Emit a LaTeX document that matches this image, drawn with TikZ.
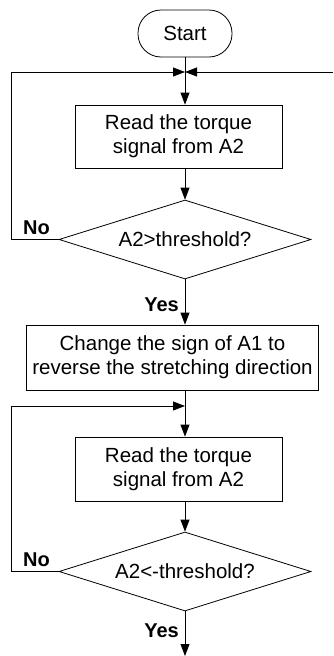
\documentclass[tikz,border=0pt]{standalone}
\usepackage{fontspec}
\setmainfont{Liberation Sans}
\usetikzlibrary{shapes.geometric,arrows.meta}
\begin{document}
\begin{tikzpicture}[x=1pt,y=-1pt,
  every node/.style={font=\fontsize{20.5}{24}\selectfont},
  line/.style={line width=0.8pt},
  arr/.style={line width=0.8pt,-{Triangle[length=12pt,width=9pt]}},
  term/.style={draw,line width=0.8pt,rectangle,rounded corners=23pt,minimum width=94pt,minimum height=47pt,inner sep=0pt},
  proc/.style={draw,line width=0.8pt,rectangle,inner sep=0pt,align=center},
  dec/.style={draw,line width=0.8pt,diamond,shape aspect=3.19,inner sep=0pt,minimum width=252pt,minimum height=79pt},
  lbl/.style={font=\fontsize{20}{24}\selectfont\bfseries,inner sep=0pt}
]
\useasboundingbox (0,0) rectangle (333,656);
\node[term] (start) at (185,33.5) {Start};
\coordinate (j1) at (185,72);
\coordinate (r1) at (333,72);
\node[proc,minimum width=207pt,minimum height=63pt] (b1) at (178.5,136.5) {Read the torque\\signal from A2};
\node[dec] (d1) at (185,239.5) {A2>threshold?};
\node[proc,minimum width=292pt,minimum height=65pt] (b2) at (172.5,357.5) {Change the sign of A1 to\\reverse the stretching direction};
\coordinate (j2) at (185,406);
\node[proc,minimum width=207pt,minimum height=64pt] (b3) at (178.5,469) {Read the torque\\signal from A2};
\node[dec] (d2) at (185,571.5) {A2<-threshold?};
\coordinate (endp) at (185,656);
\coordinate (c1) at (11,239.5);
\coordinate (c2) at (11,72);
\coordinate (c3) at (11,571.5);
\coordinate (c4) at (11,406);

\draw[arr] (start) -- (start |- b1.north);
\draw[arr] (r1) -- (j1);
\draw[arr] (d1.west) -- (c1) -- (c2) -- (j1);
\draw[arr] (d1 |- b1.south) -- (d1.north);
\draw[arr] (d1.south) -- (d1 |- b2.north);
\draw[arr] (d1 |- b2.south) -- (d1 |- b3.north);
\draw[arr] (d2.west) -- (c3) -- (c4) -- (j2);
\draw[arr] (d2 |- b3.south) -- (d2.north);
\draw[arr] (d2.south) -- (endp);

\node[lbl,anchor=east] (no1) at (50,228) {No};
\node[lbl,anchor=east] (yes1) at (179,305) {Yes};
\node[lbl,anchor=east] (no2) at (50,560) {No};
\node[lbl,anchor=east] (yes2) at (179,631) {Yes};
\end{tikzpicture}
\end{document}
